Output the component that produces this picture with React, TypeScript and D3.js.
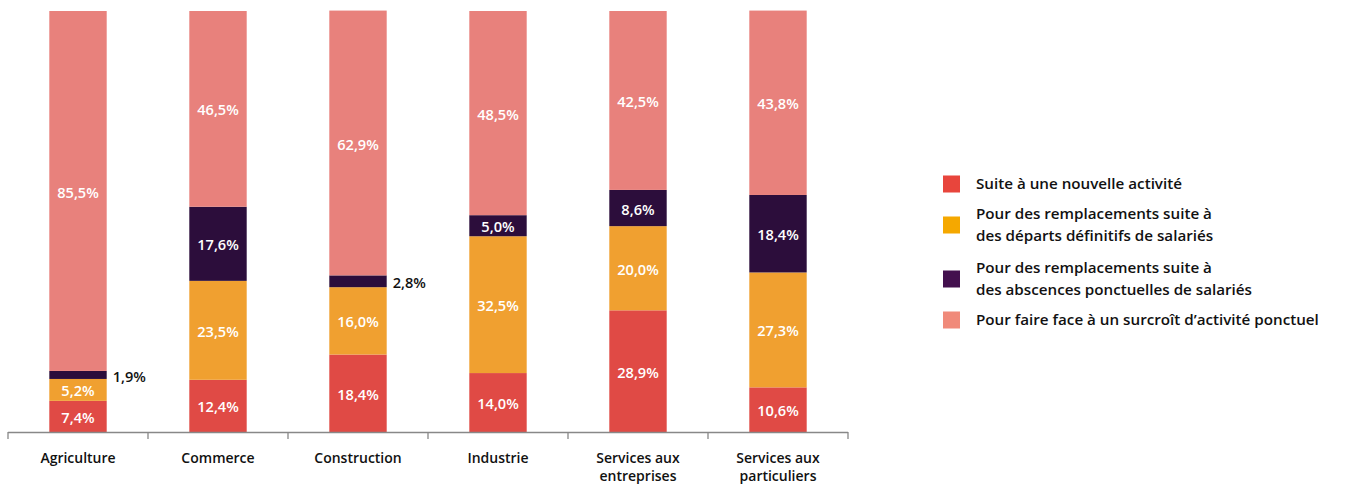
import React, { useEffect, useRef } from 'react';
import * as d3 from 'd3';

const categories = [
  ['Agriculture'],
  ['Commerce'],
  ['Construction'],
  ['Industrie'],
  ['Services aux', 'entreprises'],
  ['Services aux', 'particuliers'],
];

const nouvelleActivite = [7.4, 12.4, 18.4, 14.0, 28.9, 10.6];
const departsDefinitifs = [5.2, 23.5, 16.0, 32.5, 20.0, 27.3];
const absencesPonctuelles = [1.9, 17.6, 2.8, 5.0, 8.6, 18.4];
const surcroitActivite = [85.5, 46.5, 62.9, 48.5, 42.5, 43.8];

const seriesNames = [
  ['Suite à une nouvelle activité'],
  ['Pour des remplacements suite à', 'des départs définitifs de salariés'],
  ['Pour des remplacements suite à', 'des abscences ponctuelles de salariés'],
  ['Pour faire face à un surcroît d’activité ponctuel'],
];

const barColors = ['#e04a45', '#f0a030', '#2c0d3b', '#e8817c'];
const legendColors = ['#e8453c', '#f5a800', '#43104e', '#f08a7a'];

const width = 1363;
const height = 485;
const FONT = '"Open Sans", "Noto Sans", sans-serif';

export default function App() {
  const svgRef = useRef<SVGSVGElement>(null);

  useEffect(() => {
    if (!svgRef.current) return;
    const svg = d3.select(svgRef.current);
    svg.selectAll('*').remove();

    const allSeries = [nouvelleActivite, departsDefinitifs, absencesPonctuelles, surcroitActivite];
    const rows = categories.map((c, i) => {
      const r: any = { key: c.join(' ') };
      allSeries.forEach((s, j) => (r['s' + j] = s[i]));
      return r;
    });
    const keys = ['s0', 's1', 's2', 's3'];
    const stacked = d3.stack().keys(keys)(rows);

    const x = d3.scaleBand()
      .domain(rows.map(r => r.key))
      .range([8, 848])
      .paddingInner(0.59)
      .paddingOuter(0.295);

    const y = d3.scaleLinear().domain([0, 100]).range([432, 11]);

    const fmt = (v: number) => v.toFixed(1).replace('.', ',') + '%';

    stacked.forEach((layer, j) => {
      const g = svg.append('g');
      g.selectAll('rect')
        .data(layer)
        .join('rect')
        .attr('x', d => x(d.data.key as string)!)
        .attr('width', x.bandwidth())
        .attr('y', d => y(d[1]))
        .attr('height', d => y(d[0]) - y(d[1]))
        .attr('fill', barColors[j]);

      g.selectAll('text')
        .data(layer)
        .join('text')
        .attr('x', d => {
          const v = d[1] - d[0];
          return v < 4 ? x(d.data.key as string)! + x.bandwidth() + 6 : x(d.data.key as string)! + x.bandwidth() / 2;
        })
        .attr('y', d => (y(d[0]) + y(d[1])) / 2)
        .attr('dy', '0.45em')
        .attr('text-anchor', d => (d[1] - d[0] < 4 ? 'start' : 'middle'))
        .attr('fill', d => (d[1] - d[0] < 4 ? '#111' : '#fff'))
        .style('font-family', FONT)
        .style('font-weight', 600)
        .style('font-size', '14.6px')
        .text(d => fmt(d[1] - d[0]));
    });

    // axis
    const axis = svg.append('g').attr('stroke', '#888').attr('stroke-width', 1.3);
    axis.append('line').attr('x1', 8).attr('x2', 848).attr('y1', 432.5).attr('y2', 432.5);
    const step = x.step();
    d3.range(rows.length + 1).forEach(i => {
      const tx = 8 + i * step;
      axis.append('line').attr('x1', tx).attr('x2', tx).attr('y1', 432).attr('y2', 439);
    });

    const catG = svg.append('g');
    categories.forEach((lines, i) => {
      const cx = x(rows[i].key)! + x.bandwidth() / 2;
      const t = catG.append('text')
        .attr('x', cx)
        .attr('y', 463)
        .attr('text-anchor', 'middle')
        .attr('fill', '#111')
        .style('font-family', FONT)
        .style('font-weight', 600)
        .style('font-size', '14px');
      lines.forEach((l, k) => {
        t.append('tspan').attr('x', cx).attr('dy', k === 0 ? 0 : 18).text(l);
      });
    });

    // legend
    const legendY = [184, 225, 279, 320];
    const leg = svg.append('g');
    seriesNames.forEach((lines, i) => {
      leg.append('rect')
        .attr('x', 943)
        .attr('y', legendY[i] - 8.5)
        .attr('width', 17)
        .attr('height', 17)
        .attr('fill', legendColors[i]);
      const top = legendY[i] - ((lines.length - 1) * 22) / 2;
      lines.forEach((l, k) => {
        leg.append('text')
          .attr('x', 976)
          .attr('y', top + k * 22)
          .attr('dy', '0.36em')
          .attr('fill', '#111')
          .style('font-family', FONT)
          .style('font-weight', 600)
          .style('font-size', '15.2px')
          .text(l);
      });
    });
  }, []);

  return <svg ref={svgRef} width={width} height={height} style={{ position: 'absolute', left: 0, top: 0 }} />;
}
